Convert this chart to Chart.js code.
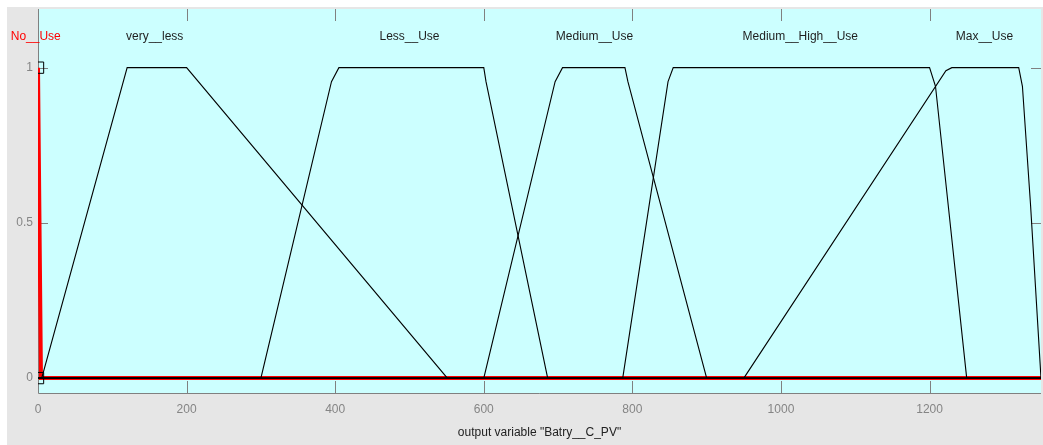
<!DOCTYPE html>
<html><head><meta charset="utf-8">
<script src="https://cdn.jsdelivr.net/npm/chart.js@4"></script>
<style>html,body{margin:0;padding:0;overflow:hidden;background:#fff}#wrap{width:1043px;height:445px;overflow:hidden}</style>
</head><body><div id="wrap"><canvas id="c" width="1050" height="445"></canvas></div>
<script>
// ---- data ----
const mfNames = ['No__Use', 'very__less', 'Less__Use', 'Medium__Use', 'Medium__High__Use', 'Max__Use'];
const noUseX = [0, 1, 4, 1350];
const noUseY = [1, 1, 0, 0];
const veryLessX = [0, 5, 120, 200, 551, 1350];
const veryLessY = [0, 0, 1, 1, 0, 0];
const lessUseX = [0, 300, 395, 405, 600, 603, 686, 1350];
const lessUseY = [0, 0, 0.955, 1, 1, 0.955, 0, 0];
const mediumUseX = [0, 600, 696, 706, 790, 794, 900, 1350];
const mediumUseY = [0, 0, 0.955, 1, 1, 0.955, 0, 0];
const medHighX = [0, 787, 848, 855, 1200, 1208, 1250, 1350];
const medHighY = [0, 0, 0.955, 1, 1, 0.94, 0, 0];
const maxUseX = [0, 950, 1222, 1230, 1320, 1325, 1336, 1350];
const maxUseY = [0, 0, 0.99, 1, 1, 0.94, 0.555, 0];
const handleX = [0, 0];
const handleY = [1, 0];
const labelX = [-3, 157, 500, 749, 1026, 1274];
const labelY = 1.1;
const xTicks = [0, 200, 400, 600, 800, 1000, 1200];
const yTicks = [0, 0.5, 1];
const xRange = [0, 1350];
const yRange = [-0.048, 1.189];
const axisTitle = 'output variable "Batry__C_PV"';

const pts = (xs, ys) => xs.map((x, i) => ({x: x, y: ys[i]}));
const FONT = "'Liberation Sans', Arial, sans-serif";
Chart.defaults.font.family = FONT;

const blackSets = [
  [veryLessX, veryLessY], [lessUseX, lessUseY], [mediumUseX, mediumUseY],
  [medHighX, medHighY], [maxUseX, maxUseY]
].map((p, i) => ({
  label: mfNames[i + 1], data: pts(p[0], p[1]), borderColor: '#000', borderWidth: 1.1,
  pointRadius: 0, tension: 0, fill: false, order: 1
}));

const decor = {
  id: 'decor',
  beforeDraw(chart) {
    const {ctx, chartArea: a} = chart;
    const xs = chart.scales.x, ys = chart.scales.y;
    ctx.save();
    ctx.fillStyle = '#fff'; ctx.fillRect(0, 0, chart.width, chart.height);
    ctx.fillStyle = '#e6e6e6'; ctx.fillRect(7, 7, chart.width - 7, chart.height - 7);
    ctx.fillStyle = '#ccffff'; ctx.fillRect(a.left, a.top, a.right - a.left, a.bottom - a.top);
    ctx.strokeStyle = '#808080'; ctx.lineWidth = 1;
    ctx.beginPath();
    xTicks.forEach(v => {
      const p = Math.round(xs.getPixelForValue(v)) + 0.5;
      ctx.moveTo(p, a.bottom); ctx.lineTo(p, a.bottom - 12);
      ctx.moveTo(p, a.top); ctx.lineTo(p, a.top + 12);
    });
    yTicks.forEach(v => {
      const p = Math.round(ys.getPixelForValue(v)) + 0.5;
      ctx.moveTo(a.left, p); ctx.lineTo(a.left + 10, p);
      ctx.moveTo(a.right, p); ctx.lineTo(a.right - 10, p);
    });
    ctx.moveTo(a.left + 0.5, a.top); ctx.lineTo(a.left + 0.5, a.bottom + 0.5); ctx.lineTo(a.right, a.bottom + 0.5);
    ctx.stroke();
    ctx.restore();
  },
  afterDatasetsDraw(chart) {
    const {ctx} = chart;
    const xs = chart.scales.x, ys = chart.scales.y;
    ctx.save();
    ctx.font = '12px ' + FONT;
    ctx.textAlign = 'center'; ctx.textBaseline = 'middle';
    mfNames.forEach((n, i) => {
      ctx.fillStyle = i === 0 ? '#ff0000' : '#1e1e1e';
      ctx.fillText(n, xs.getPixelForValue(labelX[i]), ys.getPixelForValue(labelY));
    });
    ctx.restore();
  }
};

new Chart(document.getElementById('c'), {
  type: 'line',
  data: {
    datasets: [
      {label: 'handles', data: pts(handleX, handleY), showLine: false, pointStyle: 'rect',
       pointRadius: 8, pointBorderColor: '#000', pointBackgroundColor: 'rgba(0,0,0,0)', pointBorderWidth: 1,
       clip: 0, order: 0},
      ...blackSets,
      {label: mfNames[0], data: pts(noUseX, noUseY), borderColor: '#ff0000', borderWidth: 4,
       pointRadius: 0, tension: 0, fill: false, clip: 0, order: 2}
    ]
  },
  options: {
    responsive: false, animation: false, devicePixelRatio: 1,
    layout: {padding: {top: 7, right: 3, left: 0, bottom: 0}},
    plugins: {legend: {display: false}, tooltip: {enabled: false}},
    scales: {
      x: {
        type: 'linear', min: xRange[0], max: xRange[1],
        grid: {display: false, drawTicks: false}, border: {display: false},
        afterBuildTicks: s => { s.ticks = xTicks.map(v => ({value: v})); },
        afterFit: s => { s.height = 52; s.paddingLeft = 0; s.paddingRight = 0; },
        ticks: {autoSkip: false, maxRotation: 0, padding: 9, color: '#858585', font: {size: 12},
                callback: v => String(v)},
        title: {display: true, text: axisTitle, color: '#222', font: {size: 12}, padding: {top: 0, bottom: 5}}
      },
      y: {
        type: 'linear', min: yRange[0], max: yRange[1],
        grid: {display: false, drawTicks: false}, border: {display: false},
        afterBuildTicks: s => { s.ticks = yTicks.map(v => ({value: v})); },
        afterFit: s => { s.width = 38; s.paddingTop = 0; s.paddingBottom = 0; },
        ticks: {padding: 5, color: '#858585', font: {size: 12}, callback: v => String(v)}
      }
    }
  },
  plugins: [decor]
});
</script></body></html>
